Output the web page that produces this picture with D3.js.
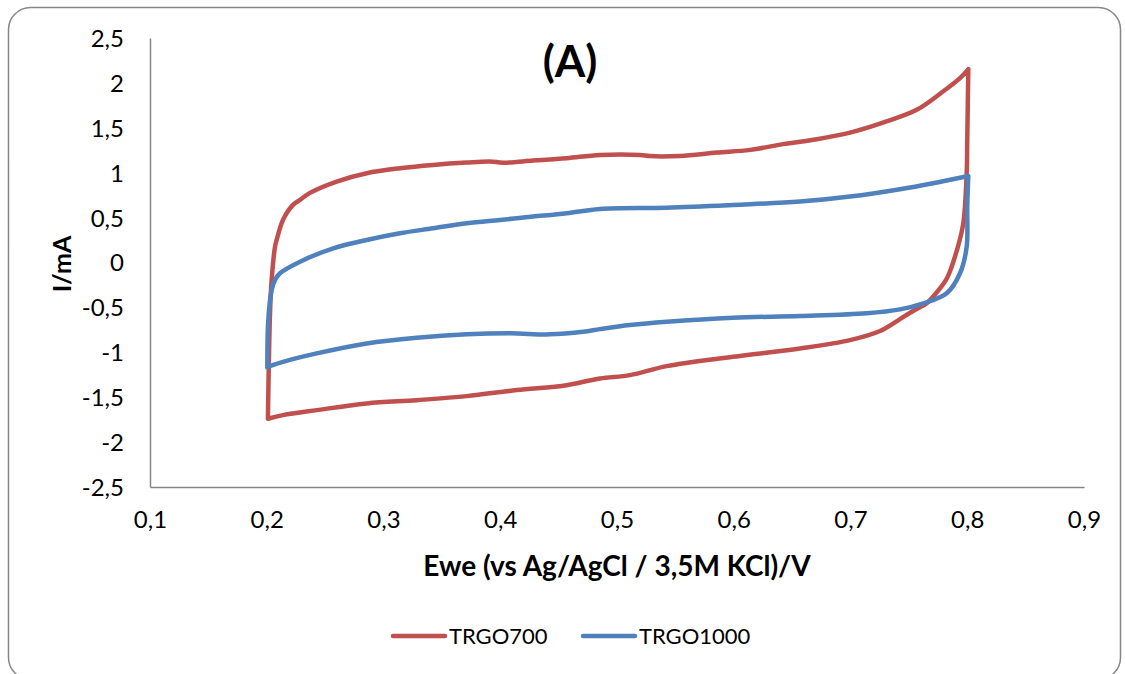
<!DOCTYPE html>
<html>
<head>
<meta charset="utf-8" />
<title>TRGO CV</title>
<style>
    body { margin: 0; background: #fff; }
    svg text { font-family: Lato, "Open Sans", sans-serif; fill: #000; }
</style>
</head>
<body>
    <div id="container"></div>
<script src="https://cdn.jsdelivr.net/npm/d3@7"></script>
<script>
    // potential (V) and current (mA), traced round each loop
    const trgo700E = [0.201, 0.2028, 0.2042, 0.2071, 0.2085, 0.2139, 0.2225, 0.2285, 0.237, 0.2599, 0.2856, 0.3141, 0.3424, 0.3713, 0.3912, 0.4024, 0.4281, 0.4569, 0.4854, 0.5197, 0.5283, 0.554, 0.5854, 0.6141, 0.6422, 0.6711, 0.6996, 0.7278, 0.7567, 0.7792, 0.7938, 0.8009,
        0.8, 0.7995, 0.7966, 0.7912, 0.7827, 0.7741, 0.7655, 0.7535, 0.7398, 0.7253, 0.6996, 0.6567, 0.5994, 0.5426, 0.5111, 0.4854, 0.4569, 0.4141, 0.3713, 0.3284, 0.2856, 0.2428, 0.2139, 0.201]
    const trgo700I = [-1.74, -0.563, -0.195, 0.176, 0.251, 0.474, 0.641, 0.697, 0.775, 0.901, 0.994, 1.05, 1.087, 1.113, 1.124, 1.112, 1.135, 1.162, 1.198, 1.198, 1.185, 1.187, 1.224, 1.254, 1.318, 1.373, 1.447, 1.558, 1.7, 1.904, 2.053, 2.154,
        1.366, 0.994, 0.437, 0.139, -0.173, -0.329, -0.451, -0.54, -0.652, -0.763, -0.864, -0.957, -1.05, -1.154, -1.254, -1.291, -1.366, -1.421, -1.488, -1.533, -1.57, -1.644, -1.7, -1.74]

    const trgo1000E = [0.2005, 0.2013, 0.2042, 0.2071, 0.2113, 0.2285, 0.257, 0.2856, 0.3141, 0.3424, 0.3713, 0.3998, 0.4281, 0.4569, 0.4854, 0.5426, 0.5994, 0.6567, 0.6996, 0.7424, 0.7707, 0.8009,
        0.8, 0.7995, 0.7938, 0.7824, 0.7624, 0.7424, 0.7139, 0.6567, 0.5994, 0.5426, 0.5111, 0.4854, 0.4709, 0.4426, 0.4084, 0.3713, 0.3284, 0.2856, 0.2428, 0.2139, 0.2013, 0.2005]
    const trgo1000I = [-1.17, -0.641, -0.307, -0.195, -0.12, 0.009, 0.158, 0.251, 0.326, 0.381, 0.437, 0.474, 0.511, 0.549, 0.596, 0.611, 0.641, 0.678, 0.734, 0.816, 0.883, 0.964,
        0.622, 0.176, -0.12, -0.343, -0.455, -0.522, -0.566, -0.596, -0.615, -0.66, -0.697, -0.742, -0.771, -0.8, -0.789, -0.8, -0.838, -0.901, -1.012, -1.106, -1.162, -1.17]

    const seriesNames = ['TRGO700', 'TRGO1000']
    const xTicks = [0.1, 0.2, 0.3, 0.4, 0.5, 0.6, 0.7, 0.8, 0.9]
    const yTicks = [-2.5, -2, -1.5, -1, -0.5, 0, 0.5, 1, 1.5, 2, 2.5]

    const colors = ['#C0504D', '#4F81BD']
    const series = [
        { name: seriesNames[0], pts: trgo700E.map((e, i) => [e, trgo700I[i]]) },
        { name: seriesNames[1], pts: trgo1000E.map((e, i) => [e, trgo1000I[i]]) }
    ]

    const W = 1125, H = 674
    const margin = { top: 38, right: 41, bottom: 187, left: 150 }
    const width = W - margin.left - margin.right
    const height = H - margin.top - margin.bottom

    const fmt = d => String(d).replace('.', ',')

    let svg = d3.select('#container').append('svg').attr('width', W).attr('height', H)

    // chart frame
    svg.append('rect').attr('x', 8.5).attr('y', 7.5).attr('width', 1112).attr('height', 672)
        .attr('rx', 22).attr('fill', '#fff').attr('stroke', '#868686').attr('stroke-width', 1.5)

    let chart = svg.append('g').attr('transform', `translate(${margin.left},${margin.top})`)

    let xScale = d3.scaleLinear().domain([0.1, 0.9]).range([0, width])
    let yScale = d3.scaleLinear().domain([-2.5, 2.5]).range([height, 0])

    let xAxis = d3.axisBottom(xScale).tickValues(xTicks).tickFormat(fmt).tickSize(0).tickPadding(24)
    let yAxis = d3.axisLeft(yScale).tickValues(yTicks).tickFormat(fmt).tickSize(0).tickPadding(26)

    let gx = chart.append('g').attr('transform', `translate(0,${height})`).call(xAxis)
    let gy = chart.append('g').call(yAxis)
    ;[gx, gy].forEach(g => {
        g.select('.domain').attr('stroke', '#868686').attr('stroke-width', 1.5)
        g.selectAll('text').style('font-size', '24px').attr('fill', '#000')
    })
    gy.selectAll('text').attr('dy', '0.35em')

    // smooth curve, but keep the sharp switching corner at the max potential
    let line = d3.line().x(d => xScale(d[0])).y(d => yScale(d[1])).curve(d3.curveCatmullRom.alpha(0.5))
    const loopPath = pts => {
        let k = d3.maxIndex(pts, p => p[0])
        return line(pts.slice(0, k + 1)) + 'L' + line(pts.slice(k)).slice(1)
    }

    chart.selectAll('.cv').data(series).enter().append('path')
        .attr('class', 'cv')
        .attr('d', d => loopPath(d.pts))
        .attr('fill', 'none')
        .attr('stroke', (d, i) => colors[i])
        .attr('stroke-width', 4.5)
        .attr('stroke-linejoin', 'round')
        .attr('stroke-linecap', 'round')

    // title and axis titles
    svg.append('text').attr('x', 570).attr('y', 77).attr('text-anchor', 'middle')
        .style('font-size', '44px').style('font-weight', 'bold').text('(A)')
    svg.append('text').attr('x', 617).attr('y', 576).attr('text-anchor', 'middle')
        .style('font-size', '28px').style('font-weight', 'bold').text('Ewe (vs Ag/AgCl / 3,5M KCl)/V')
    svg.append('text').attr('transform', 'translate(71,264) rotate(-90)').attr('text-anchor', 'middle')
        .style('font-size', '25px').style('font-weight', 'bold').text('I/mA')

    // legend
    let legend = svg.append('g').attr('transform', 'translate(391,636)')
    let item = legend.selectAll('g').data(series).enter().append('g')
        .attr('transform', (d, i) => `translate(${i * 190},0)`)
    item.append('line').attr('x1', 2).attr('x2', 54).attr('y1', 0).attr('y2', 0)
        .attr('stroke', (d, i) => colors[i]).attr('stroke-width', 4.5).attr('stroke-linecap', 'round')
    item.append('text').attr('x', 58).attr('y', 0).attr('dy', '0.35em')
        .style('font-size', '22px').text(d => d.name)
</script>
</body>
</html>
